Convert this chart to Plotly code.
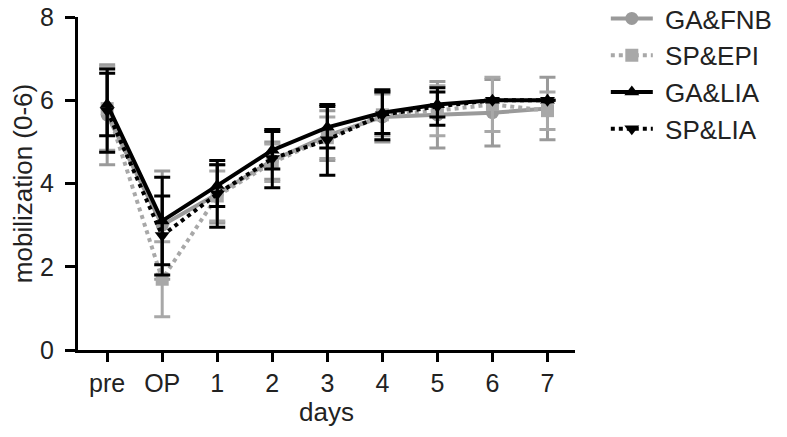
import plotly.graph_objects as go

days = ["pre", "OP", "1", "2", "3", "4", "5", "6", "7"]
positions = list(range(len(days)))

ga_fnb = [5.65, 3.0, 3.75, 4.55, 5.15, 5.6, 5.65, 5.7, 5.8]
ga_fnb_sd = [1.2, 1.3, 0.7, 0.45, 0.6, 0.6, 0.8, 0.8, 0.75]

sp_epi = [5.8, 1.7, 3.7, 4.5, 5.1, 5.65, 5.75, 5.9, 5.75]
sp_epi_sd = [1.0, 0.9, 0.6, 0.45, 0.5, 0.5, 0.6, 0.65, 0.45]

ga_lia = [5.9, 3.1, 3.95, 4.8, 5.35, 5.7, 5.9, 6.0, 6.0]
ga_lia_sd = [0.75, 1.05, 0.5, 0.45, 0.5, 0.5, 0.3, 0.0, 0.0]

sp_lia = [5.75, 2.75, 3.75, 4.6, 5.05, 5.65, 5.85, 6.0, 6.0]
sp_lia_sd = [1.0, 0.95, 0.8, 0.7, 0.85, 0.6, 0.45, 0.0, 0.0]

series = [
    ("GA&FNB", ga_fnb, ga_fnb_sd, "#9a9a9a", "solid", "circle"),
    ("SP&EPI", sp_epi, sp_epi_sd, "#a8a8a8", "dot", "square"),
    ("GA&LIA", ga_lia, ga_lia_sd, "black", "solid", "triangle-up"),
    ("SP&LIA", sp_lia, sp_lia_sd, "black", "dot", "triangle-down"),
]

fig = go.Figure()
for name, vals, sd, col, dash, sym in series:
    fig.add_trace(go.Scatter(
        x=positions, y=vals, name="\u00a0" + name, mode="lines+markers",
        line=dict(color=col, width=4, dash=dash),
        marker=dict(symbol=sym, size=13, color=col),
        error_y=dict(type="data", array=sd, color=col, thickness=3, width=8),
    ))

# the page body keeps an 8px margin, so the figure is a bit smaller than the window
fig.update_layout(
    width=779, height=429,
    margin=dict(l=70, r=212, t=9, b=87, autoexpand=False),
    plot_bgcolor="white", paper_bgcolor="white",
    font=dict(family="Liberation Sans, Arial", size=25, color="#222222"),
    showlegend=True,
    legend=dict(x=1.062, y=1.066, xanchor="left", yanchor="top",
                font=dict(size=26), itemwidth=42,
                bgcolor="rgba(0,0,0,0)"),
)
fig.update_xaxes(
    range=[-0.53, 8.5], tickvals=positions, ticktext=days,
    showline=True, linecolor="black", linewidth=3,
    ticks="outside", ticklen=9, tickwidth=3, tickcolor="black",
    showgrid=False, zeroline=False,
    title=dict(text="days", font=dict(size=26), standoff=3),
)
fig.update_yaxes(
    range=[0, 8], tickvals=[0, 2, 4, 6, 8],
    showline=True, linecolor="black", linewidth=3,
    ticks="outside", ticklen=10, tickwidth=3, tickcolor="black",
    ticklabelstandoff=6, ticklabeloverflow="allow",
    showgrid=False, zeroline=False,
    title=dict(text="mobilization (0-6)", font=dict(size=26), standoff=16),
)

fig.write_html("out.html")
